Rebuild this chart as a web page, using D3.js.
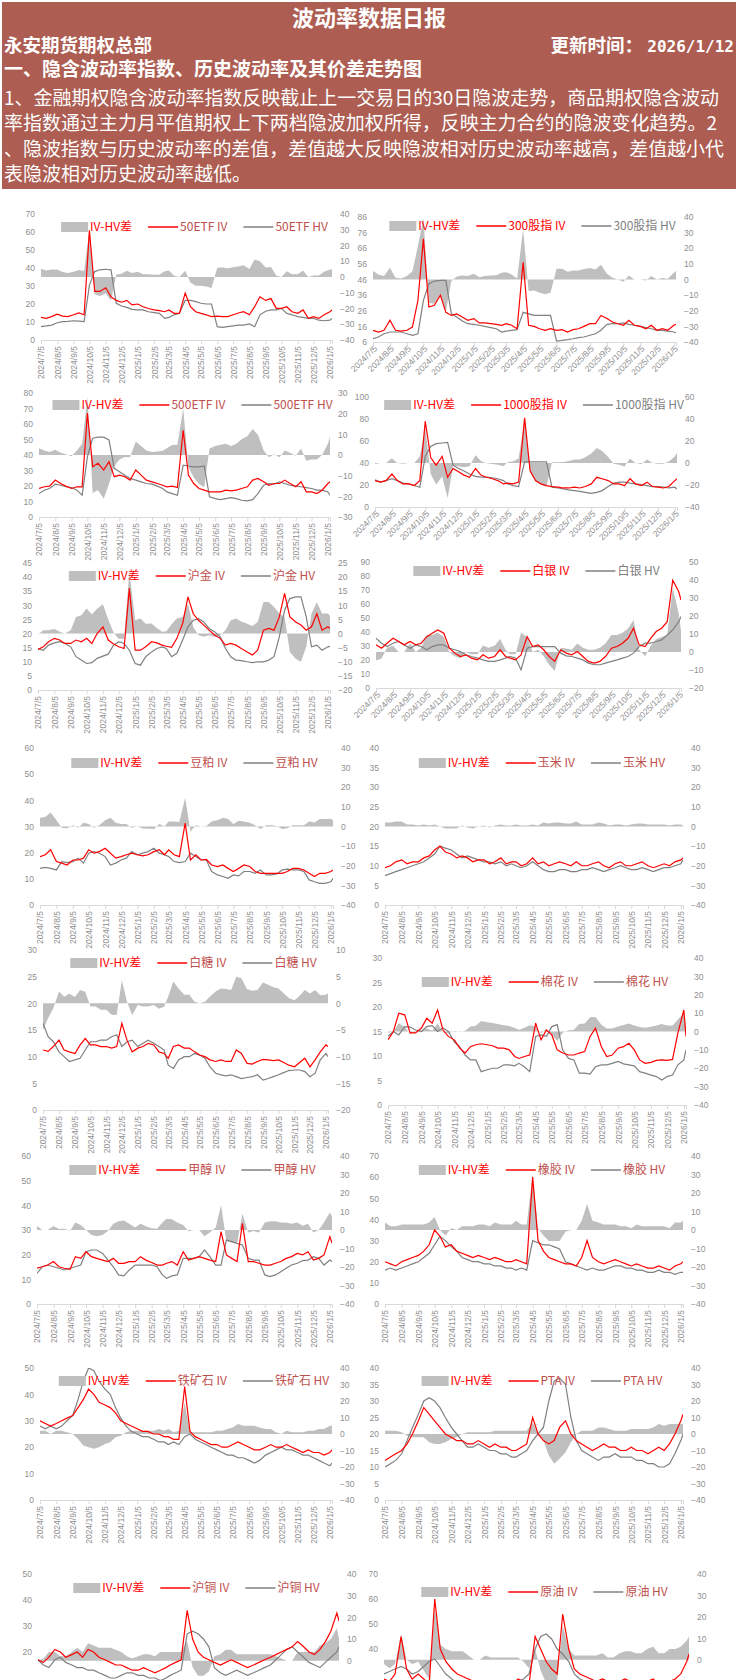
<!DOCTYPE html>
<html>
<head>
<meta charset="utf-8">
<script src="https://cdn.jsdelivr.net/npm/d3@7"></script>
<style>
  body { margin: 0; background: #fff; }
  svg { display: block; font-family: "Noto Sans CJK SC", "Noto Sans", sans-serif; }
</style>
</head>
<body>
<svg id="page" width="738" height="1680"></svg>
<script>
// sample dates (3 per month) and monthly tick labels
const dates = ["2024-07-05","2024-07-15","2024-07-25","2024-08-05","2024-08-15","2024-08-25","2024-09-05","2024-09-15","2024-09-25","2024-10-05","2024-10-15","2024-10-25","2024-11-05","2024-11-15","2024-11-25","2024-12-05","2024-12-15","2024-12-25","2025-01-05","2025-01-15","2025-01-25","2025-02-05","2025-02-15","2025-02-25","2025-03-05","2025-03-15","2025-03-25","2025-04-05","2025-04-15","2025-04-25","2025-05-05","2025-05-15","2025-05-25","2025-06-05","2025-06-15","2025-06-25","2025-07-05","2025-07-15","2025-07-25","2025-08-05","2025-08-15","2025-08-25","2025-09-05","2025-09-15","2025-09-25","2025-10-05","2025-10-15","2025-10-25","2025-11-05","2025-11-15","2025-11-25","2025-12-05","2025-12-15","2025-12-25","2026-01-05","2026-01-09"];
const tickLabels = ["2024/7/5","2024/8/5","2024/9/5","2024/10/5","2024/11/5","2024/12/5","2025/1/5","2025/2/5","2025/3/5","2025/4/5","2025/5/5","2025/6/5","2025/7/5","2025/8/5","2025/9/5","2025/10/5","2025/11/5","2025/12/5","2026/1/5"];

// IV / HV series (IV-HV差 = IV - HV)
const etf50IV = [12.6,12,13, 14.4,13.3,13, 14,15,14, 61,27,27, 29,24,22, 21,22,19.5, 20,18.5,17.5, 16.7,16.3,15.7, 16.7,14.8,14.8, 26,18.5,15.7, 14.8,14,13, 13.3,13,13, 14,15,15.7, 14,18.5,24, 22,23,17.6, 17.6,18.5,15.7, 14.8,16.7,12, 13,12,14, 15.7,16.7];
const etf50HV = [7.4,7.8,8.3, 9.6,10.2,10.4, 10.7,10.5,10.2, 30.5,38,39, 39.3,39,20.4, 18.9,18.1,17, 16.7,16.7,15.7, 15.2,14.8,12, 12.6,14,14.8, 22,22,21.3, 20.4,20,20, 7.4,7,7.4, 7.8,8.3,8.3, 8.9,7.4,14, 16,16.7,16.7, 17.6,14.8,14, 13,12.6,12, 12,11,10.7, 11,12];
const hs300IV = [13.5,12.4,13.5, 19.9,13.5,13, 13.5,15.6,32.7, 72,28.4,29.5, 35.9,25,23, 24,22,19.9, 21,18.2,18.2, 17.7,17.3,16.7, 17.7,16.7,14.5, 57,16.7,16, 14.5,13.5,14.5, 13.5,13.9,12.4, 13.9,14.5,16, 17.7,17.7,23, 21,18.8,17.7, 16.7,19.9,16.7, 16,14.5,16.7, 13.5,14.5,13.5, 16.7,17.3];
const hs300HV = [8.1,9.2,11.3, 12.4,12.4,12.4, 11.3,10.3,11.3, 32.7,43.3,45, 45.5,45.5,24, 22,19.4,17.7, 17.3,16.7,16, 15.2,14.5,12.4, 13,13.5,13.9, 25,24,23, 23,23,23, 6.6,7,7.5, 8.1,8.8,9.2, 10.3,11.3,13.5, 17.3,17.7,17.7, 18.2,17.3,16.7, 16,15.2,14.5, 13.5,13.5,13, 12.4,11.8];
const etf500IV = [18.4,19.5,19.9, 23.8,21.6,19.9, 18.4,19.5,19.5, 67,32.4,34.6, 30.3,35.7,26, 27,26,23.8, 30.3,27,23.8, 22.7,21.6,20.5, 19.5,19.9,19, 56,27,21.6, 18.4,17.3,16.2, 16.2,16.2,17.3, 16.9,17.3,18.4, 19.5,23.8,24.9, 22.7,20.5,21.6, 21.6,23.8,21.6, 19.5,22.7,16.2, 16.2,15.1,17.3, 21.6,22.7];
const etf500HV = [15.1,17.3,18.4, 21.2,20.5,19.5, 19,17.3,14, 39,50.8,51.5, 51.5,49.7,31.4, 29.2,27,24.9, 23.8,22.7,21.6, 21.2,19.9,18.4, 16.2,15.1,14, 33.5,32.9,32.4, 32.4,32.9,13, 11.9,11.2,11.9, 12.5,11.9,10.8, 10.4,11.2,15.1, 20.5,21.6,21.2, 22.7,21.6,20.5, 19.9,19.5,19, 18.4,17.3,17.3, 16.2,14];
const zz1000IV = [24,22.6,24, 30,24,21, 21,19.5,24, 78,45,38, 46,27,35, 32,29,27, 35,29,27, 25.7,24,21, 21.7,21,22.6, 81,33,24, 21,19.5,18.6, 18,17.3,17.3, 18,17.3,18.6, 21,27,25.7, 24,21,21, 19.5,25.7,21, 19.5,22.6,18.6, 18,17.3,18.6, 24,25.7];
const zz1000HV = [24.8,22.6,24, 25.7,24,21.7, 21,19.5,18, 46,55,57.6, 58.2,58.8,38, 35,32.8,30, 27.9,27.2,27.2, 26.6,25.7,24, 21,19.5,18.6, 41,41,41, 41,41,18, 17.3,16.4,15.5, 14.9,14.2,13.3, 12.4,13.3,14.9, 18.6,21.7,22.6, 22.6,21.7,21, 20.4,19.5,18.6, 18.6,18,17.3, 18,16.4];
const goldIV = [14.4,15.3,17.1, 18.3,17.7,16.5, 16.5,17.7,17.1, 18.3,16.5,20, 22.4,17.7,16.3, 15.3,14.7,36, 14.1,14.1,15.3, 17.1,16.7,15.9, 15.5,15.1,18.3, 23.6,33,27, 24.7,23,21.2, 19.4,18.3,15.9, 16.5,15.9,14.7, 13.5,12.4,14.1, 21.2,21.8,21.2, 25.9,34.2,25.9, 24.1,23,21.2, 22.4,27,21.2, 22.4,21.8];
const goldHV = [14.7,14.1,15.9, 16.7,17.1,16.5, 15.3,11.8,10.6, 9.4,9.7,11.2, 12,12.7,15.9, 17.1,16.5,14.1, 9.4,8.8,11.8, 13.5,14.7,15.3, 14.7,11.8,13, 17.7,22.4,24.7, 25.3,24.1,21.8, 20.6,18.8,14.7, 11.8,10.6,10.4, 10,9.7,10, 10,10.6,11.8, 18.8,28.3,32.4, 33,33,25.9, 15.3,15.9,14.1, 15.3,15.5];
const silverIV = [30.8,28.4,32, 35.5,33.2,30.8, 33.2,30.8,32, 36.7,39.1,41.5, 39.1,28.4,24.9, 22.5,23.7,21.3, 20.1,23.7,21.3, 22.5,27.3,22.5, 21.3,20.1,23.7, 36.7,29.6,30.8, 27.3,22.5,19, 27.3,24.9,23.7, 26,22.5,19, 17.8,19,22.5, 28.4,29.6,32, 35.5,42.7,30.8, 29.6,35.5,40.3, 42.7,47.4,77, 68.7,62.8];
const silverHV = [35.5,32,29.6, 32,33.2,30.8, 28.4,30.8,29.6, 27.3,29.6,30.8, 30.8,28.4,27.3, 26,23.7,22.5, 21.3,20.1,19, 19,20.1,21.3, 22.5,21.3,13, 28.4,29.6,29.6, 29.6,29.6,29.6, 24.9,23,22.5, 21.3,20.1,17.8, 16.6,16.6,17.8, 19,20.1,21.3, 22.5,24.9,29.6, 32,32,33.2, 34.4,37.9,41.5, 47.4,51];
const mealIV = [18.5,19.2,21.1, 16.6,16,15.3, 17.2,17.2,17.9, 21.1,19.8,20.4, 21.7,19.8,17.9, 18.5,19.2,19.8, 19.2,18.8,19.2, 20.4,21.1,19.2, 21.1,19.2,18.5, 31.3,17.2,19.2, 17.2,17.4,15.3, 14.7,15.3,14, 12.8,14,15.3, 14.7,12.8,12.1, 12.1,12.1,12.1, 12.1,12.8,14, 14,13.4,12.1, 10.9,12.1,12.1, 12.8,13.4];
const mealHV = [14,14.4,14, 13.4,16.6,16.2, 16.6,17.9,16, 19.8,20.4,19.8, 18.5,15.3,16, 17.2,17.9,20.4, 19.2,19.8,20.4, 21.7,19.8,19.2, 18.5,16.6,16.2, 16.6,19.8,18.5, 17.2,17.2,12.8, 11.5,10.9,10.2, 11.5,11.1,12.8, 12.8,12.1,13.4, 11.5,11.5,11.9, 13.4,13.7,13.4, 13.4,12.8,9.6, 8.9,8.3,8.3, 8.9,10.2];
const cornIV = [9.5,10,11, 11.5,10.5,11, 11,12,12.5, 14,15,13.5, 13,12,12.5, 12,11,11.5, 11.5,10.5,11, 12,10.5,11, 11,10,10.5, 12,10.5,11, 10,10.5,11, 10.5,10,11, 10,10,10.5, 11,10,9.5, 10.5,11,10, 10,10.5,11, 10,9.5,10, 10.5,10,11, 11.5,12];
const cornHV = [7.5,8,8.5, 9,9.5,10, 10.5,11,12, 13,15,14.5, 14,13,12, 12.5,12,11.5, 11,11,10.5, 11,10,10.5, 10,9.5,10, 11,10,9, 8.5,8.5,9, 9,8.5,8.5, 9,9,9.5, 9,8.5,9, 9.5,10,9.5, 9,9,9.5, 9,8.5,9, 9.5,9.5,10, 10.5,11.5];
const sugarIV = [11.25,11,11.9, 13.1,11.25,10.9, 10.6,12.2,13.4, 12.2,12.2,11.9, 11.9,11.6,11.9, 16.25,13.1,10.9, 11.6,11.9,12.5, 12.2,10.9,10.6, 9.7,11.9,12.2, 11.6,11.6,10.9, 10.3,10,9.4, 9.1,9.4,9.1, 9.1,11.25,10.6, 8.75,8.6,9.1, 9.5,9.4,9.25, 9.4,8.9,8.4, 8.1,8.9,9.7, 8.1,9.4,10.9, 12.2,11.9];
const sugarHV = [16.25,13.75,12.8, 10.9,10,9.1, 9.4,9.7,11.25, 12.8,12.8,13.1, 13.1,13.75,14.1, 11.9,12.8,13.1, 11.9,12.5,13.1, 12.5,11.9,11.25, 8.4,7.8,9.4, 10,10,10.6, 10.3,9.7,8.1, 6.9,6.6,6.4, 6.6,6.25,5.9, 6.1,6.25,6.6, 5.6,5.9,6.25, 6.6,7,7.4, 7.5,7.5,7.2, 6.25,6.9,9.4, 10.6,10];
const cottonIV = [13.3,15,18.75, 18.4,14.7,14.7, 15.7,17.7,16.7, 19.4,15.3,14, 13.3,11.6,10.6, 11.9,12.3,12.5, 12.3,12.1,11.6, 11.6,11.25,9.9, 9.5,9.9,10.2, 16.7,13.3,15.3, 14.3,11.25,10.6, 10.2,10.2,10.6, 10.9,14,15.7, 11.9,9.9,10.2, 11.6,11.9,12.6, 11.25,9.2,8.5, 8.7,9.1,9.2, 9.1,9.3,14.7, 19.4,14];
const cottonHV = [14,15,14.3, 16,15.9,15.3, 15,16,16.2, 15,15.7,15, 12.9,11.9,10.2, 9.2,9.2,6.8, 7.2,7.5,7.5, 8.2,8.2,8, 8.5,7.8,6.8, 14,14.3,14, 16,16.4,11.25, 9.5,9.2,6.5, 6.5,6.3,7.8, 8.2,8.2,8.5, 8.9,8.4,8.2, 8,6.8,6.5, 6.1,5.8,5.1, 5.8,6.1,8.2, 9.2,11.25];
const methanolIV = [14.5,15.1,15.8, 17.2,15.1,14.5, 14.1,19.2,18.5, 21.2,19.2,18.5, 17.8,17.2,18.5, 16.5,16.5,17.2, 17.2,19.2,17.8, 16.8,15.8,15.8, 16.5,17.2,15.8, 21.2,17.8,18.5, 19.2,18.5,17.8, 17.2,29.3,19.9, 18.5,17.2,32.7, 17.2,17.2,16.5, 15.8,15.8,16.5, 17.2,18.5,19.2, 20.5,19.9,21.2, 17.8,18.5,19.9, 27.3,24.6];
const methanolHV = [12.4,15.1,15.8, 15.1,14.5,13.8, 14.5,15.1,15.8, 21.2,21.9,21.9, 20.5,17.8,15.1, 11.8,11.4,13.8, 15.8,15.8,15.8, 15.8,15.1,11.8, 10.4,11.4,11.8, 18.5,18.5,18.5, 19.2,21.9,19.2, 15.8,15.8,25.9, 25.3,24.6,23.9, 18.5,17.8,17.8, 11.8,11.1,11.8, 13.1,14.5,15.8, 16.5,17.6,17.8, 19.2,18.5,15.8, 17.8,17.2];
const rubberIV = [20,19,18, 20,21,22, 23,25,28, 35,32,27, 28,25,24, 23,22,23, 22,21,22, 21,20,20, 21,20,19, 60,30,25, 22,21,20, 19,19,18, 22,30,22, 20,19,20, 21,20,19, 18,19,18, 17,17,18, 17,16,18, 19,20];
const rubberHV = [16,17,16, 17,18,19, 20,22,24, 28,32,30, 27,25,22, 21,20,20, 19,19,18, 18,17,17, 16,17,16, 30,29,28, 28,27,26, 20,19,18, 17,16,17, 16,16,17, 18,18,17, 17,16,16, 15,15,16, 15,15,14, 15,15];
const ironIV = [30,29,28, 29,30,31, 32,35,38, 42,40,37, 36,35,33, 30,29,28, 27,26,26, 25,25,24, 24,23,23, 43,26,24, 23,22,21, 21,20,20, 21,22,21, 20,19,19, 20,21,20, 20,21,20, 19,18,19, 18,18,17, 18,19];
const ironHV = [28,27,28, 27,28,30, 32,38,45, 50,49,45, 42,40,35, 31,28,26, 25,24,24, 23,22,22, 21,22,21, 24,25,23, 22,21,20, 19,18,17, 17,16,16, 15,14,15, 17,18,19, 20,19,19, 18,17,17, 16,15,14, 13,14];
const ptaIV = [12,13,14, 15,17,20, 24,28,26, 24,22,20, 19,18,18, 17,17,18, 17,16,17, 16,16,15, 15,16,17, 25,20,18, 17,18,22, 24,20,18, 17,16,15, 16,17,16, 16,15,15, 16,15,15, 14,15,16, 15,17,20, 24,26];
const ptaHV = [10,11,12, 14,18,22, 26,30,31, 30,28,25, 22,20,18, 16,16,17, 16,15,15, 14,14,13, 13,14,15, 18,20,22, 30,36,37, 35,25,18, 15,14,13, 12,13,13, 14,13,13, 13,12,12, 11,11,10, 10,11,14, 18,20];
const copperIV = [17,16,18, 21,20,18, 19,20,18, 21,20,18, 17,16,15, 15,14,13, 13,14,13, 12,13,14, 15,16,17, 36,25,20, 18,17,16, 15,16,17, 16,15,14, 15,16,17, 18,19,20, 21,22,24, 22,20,19, 21,24,28, 35,32];
const copperHV = [17,15,14, 17,18,16, 15,14,14, 13,13,12, 11,10,10, 11,12,12, 11,11,10, 10,9,10, 11,12,13, 27,28,27, 25,22,14, 12,11,12, 13,12,11, 12,13,14, 15,17,19, 21,22,20, 18,16,15, 14,16,18, 20,22];
const crudeIV = [28,27,30, 45,32,28, 30,28,26, 60,40,35, 32,30,29, 28,27,26, 27,26,25, 26,27,26, 28,27,26, 45,40,35, 32,30,54, 40,32,30, 29,28,27, 28,27,26, 27,28,27, 26,25,27, 28,26,25, 27,28,30, 35,38];
const crudeHV = [30,31,32, 33,32,30, 31,33,35, 36,33,30, 28,26,25, 26,27,26, 25,25,24, 25,26,25, 27,28,30, 40,45,46, 44,40,38, 35,30,28, 27,26,25, 25,26,25, 24,24,23, 23,22,22, 22,23,22, 22,23,24, 26,27];

const BROWN = "#c0504d", RED = "#ff0000", GRAY = "#7f7f7f";
const PAGE_H = 1680;
const charts = [
  { name: "50ETF", iv: etf50IV, hv: etf50HV, x0: 41, x1: 332, top: 214, bottom: 340, left: [0, 70, 10], right: [-40, 40, 10], rot: -90, legY: 227, ivText: BROWN, hvText: BROWN },
  { name: "300股指", iv: hs300IV, hv: hs300HV, x0: 373, x1: 676, top: 217, bottom: 342, left: [6, 86, 10], right: [-40, 40, 10], rot: -45, legY: 226, ivText: RED, hvText: GRAY },
  { name: "500ETF", iv: etf500IV, hv: etf500HV, x0: 39, x1: 330, top: 393, bottom: 517, left: [0, 80, 10], right: [-30, 30, 10], rot: -90, legY: 405, ivText: BROWN, hvText: BROWN },
  { name: "1000股指", iv: zz1000IV, hv: zz1000HV, x0: 375, x1: 677, top: 397, bottom: 507, left: [0, 100, 20], right: [-40, 60, 20], rot: -45, legY: 405, ivText: RED, hvText: GRAY },
  { name: "沪金", iv: goldIV, hv: goldHV, x0: 38, x1: 330, top: 563, bottom: 690, left: [0, 45, 5], right: [-20, 25, 5], rot: -90, legY: 576, ivText: BROWN, hvText: BROWN },
  { name: "白银", iv: silverIV, hv: silverHV, x0: 376, x1: 681, top: 562, bottom: 688, left: [0, 90, 10], right: [-20, 50, 10], rot: -45, legY: 571, ivText: RED, hvText: GRAY },
  { name: "豆粕", iv: mealIV, hv: mealHV, x0: 40, x1: 333, top: 748, bottom: 905, left: [0, 60, 10], right: [-40, 40, 10], rot: -90, legY: 763, ivText: BROWN, hvText: BROWN },
  { name: "玉米", iv: cornIV, hv: cornHV, x0: 385, x1: 683, top: 748, bottom: 905, left: [0, 40, 5], right: [-40, 40, 10], rot: -90, legY: 763, ivText: BROWN, hvText: BROWN },
  { name: "白糖", iv: sugarIV, hv: sugarHV, x0: 43, x1: 328, top: 950, bottom: 1110, left: [0, 30, 5], right: [-20, 10, 5], rot: -90, legY: 963, ivText: BROWN, hvText: BROWN },
  { name: "棉花", iv: cottonIV, hv: cottonHV, x0: 388, x1: 686, top: 958, bottom: 1105, left: [0, 30, 5], right: [-40, 40, 10], rot: -90, legY: 982, ivText: BROWN, hvText: BROWN },
  { name: "甲醇", iv: methanolIV, hv: methanolHV, x0: 37, x1: 332, top: 1156, bottom: 1304, left: [0, 60, 10], right: [-40, 40, 10], rot: -90, legY: 1170, ivText: BROWN, hvText: BROWN },
  { name: "橡胶", iv: rubberIV, hv: rubberHV, x0: 385, x1: 683, top: 1156, bottom: 1304, left: [0, 70, 10], right: [-40, 40, 10], rot: -90, legY: 1170, ivText: BROWN, hvText: BROWN },
  { name: "铁矿石", iv: ironIV, hv: ironHV, x0: 40, x1: 332, top: 1368, bottom: 1500, left: [0, 50, 10], right: [-40, 40, 10], rot: -90, legY: 1381, ivText: BROWN, hvText: BROWN },
  { name: "PTA", iv: ptaIV, hv: ptaHV, x0: 385, x1: 683, top: 1368, bottom: 1500, left: [0, 40, 5], right: [-40, 40, 10], rot: -90, legY: 1381, ivText: BROWN, hvText: BROWN },
  { name: "沪铜", iv: copperIV, hv: copperHV, x0: 38, x1: 339, top: 1574, bottom: 1704, left: [0, 50, 10], right: [-20, 40, 10], rot: -90, legY: 1588, ivText: BROWN, hvText: BROWN },
  { name: "原油", iv: crudeIV, hv: crudeHV, x0: 384, x1: 689, top: 1574, bottom: 1724, left: [10, 70, 10], right: [-30, 40, 10], rot: -90, legY: 1592, ivText: BROWN, hvText: BROWN }
];

const svg = d3.select("#page");
const parse = d3.timeParse("%Y-%m-%d");
const parseTick = d3.timeParse("%Y/%m/%d");
const times = dates.map(parse);
const ticks = tickLabels.map(parseTick);

// ---- header block ----
svg.append("rect").attr("x", 2).attr("y", 2).attr("width", 734).attr("height", 187).attr("fill", "#ad5d51");
const head = svg.append("g").attr("fill", "#fff");
head.append("text").attr("x", 369).attr("y", 26).attr("text-anchor", "middle")
  .attr("font-size", 22).attr("font-weight", "bold").text("波动率数据日报");
head.append("text").attr("x", 4).attr("y", 52).attr("font-size", 18.5).attr("font-weight", "bold").text("永安期货期权总部");
const upd = head.append("text").attr("x", 734).attr("y", 52).attr("text-anchor", "end").attr("font-size", 18.5).attr("font-weight", "bold");
upd.append("tspan").text("更新时间： ");
upd.append("tspan").attr("font-family", "DejaVu Sans Mono, monospace").attr("font-size", 16).text("2026/1/12");
head.append("text").attr("x", 4).attr("y", 76).attr("font-size", 19).attr("font-weight", "bold")
  .text("一、隐含波动率指数、历史波动率及其价差走势图");
const para = [
  ["1、金融期权隐含波动率指数反映截止上一交易日的30日隐波走势，商品期权隐含波动", 715],
  ["率指数通过主力月平值期权上下两档隐波加权所得，反映主力合约的隐波变化趋势。2", 713],
  ["、隐波指数与历史波动率的差值，差值越大反映隐波相对历史波动率越高，差值越小代", 720],
  ["表隐波相对历史波动率越低。", 247]
];
para.forEach(([s, w], i) => {
  head.append("text").attr("x", 4).attr("y", 105 + i * 25.3).attr("font-size", 19)
    .attr("textLength", w).attr("lengthAdjust", "spacingAndGlyphs").text(s);
});

// ---- small multiples ----
const fmt = d3.timeFormat("%Y/%-m/%-d");

charts.forEach((c, ci) => {
  const g = svg.append("g");
  const x = d3.scaleTime().domain([times[0], times[times.length - 1]]).range([c.x0, c.x1]);
  const yL = d3.scaleLinear().domain([c.left[0], c.left[1]]).range([c.bottom, c.top]);
  const yR = d3.scaleLinear().domain([c.right[0], c.right[1]]).range([c.bottom, c.top]);
  const rows = times.map((t, i) => ({ t, iv: c.iv[i], hv: c.hv[i], diff: c.iv[i] - c.hv[i] }));

  const clipId = "clip" + ci;
  svg.append("clipPath").attr("id", clipId).append("rect")
    .attr("x", c.x0).attr("y", c.top).attr("width", c.x1 - c.x0).attr("height", c.bottom - c.top);
  const plot = g.append("g").attr("clip-path", `url(#${clipId})`);

  plot.append("path").datum(rows).attr("fill", "#bfbfbf")
    .attr("d", d3.area().x(d => x(d.t)).y0(yR(0)).y1(d => yR(d.diff)));
  plot.append("path").datum(rows).attr("fill", "none").attr("stroke", "#808080").attr("stroke-width", 1.2)
    .attr("d", d3.line().x(d => x(d.t)).y(d => yL(d.hv)));
  plot.append("path").datum(rows).attr("fill", "none").attr("stroke", RED).attr("stroke-width", 1.2)
    .attr("d", d3.line().x(d => x(d.t)).y(d => yL(d.iv)));

  // value axes (labels below the page edge are left out, as in the cropped original)
  const styleAxis = s => {
    s.select(".domain").remove();
    s.selectAll("text").attr("fill", "#8f8f8f").attr("font-size", 8.5);
  };
  const visible = (scale, step, lo, hi) => d3.range(lo, hi + 0.01, step).filter(v => scale(v) < PAGE_H - 6);
  g.append("g").attr("transform", `translate(${c.x0},0)`)
    .call(d3.axisLeft(yL).tickValues(visible(yL, c.left[2], c.left[0], c.left[1])).tickSize(0).tickPadding(6))
    .call(styleAxis);
  g.append("g").attr("transform", `translate(${c.x1},0)`)
    .call(d3.axisRight(yR).tickValues(visible(yR, c.right[2], c.right[0], c.right[1])).tickSize(0).tickPadding(8))
    .call(styleAxis);

  // date axis
  if (c.bottom + 4 < PAGE_H) {
    const gx = g.append("g").attr("transform", `translate(0,${c.bottom})`)
      .call(d3.axisBottom(x).tickValues(ticks).tickFormat(fmt).tickSize(4));
    gx.select(".domain").attr("stroke", "#d9d9d9");
    gx.selectAll(".tick line").attr("stroke", "#d9d9d9");
    const lbl = gx.selectAll(".tick text").attr("fill", "#8f8f8f").attr("font-size", 8.5).attr("text-anchor", "end");
    if (c.rot === -90) {
      lbl.attr("x", -6).attr("y", 0).attr("dy", "0.35em").attr("transform", "rotate(-90)");
    } else {
      lbl.attr("x", -2).attr("y", 5).attr("dy", "0.35em").attr("transform", "rotate(-45)");
    }
  }

  // legend
  const leg = g.append("g").attr("font-size", 12);
  let cx = 0;
  leg.append("rect").attr("x", cx).attr("y", -5).attr("width", 27).attr("height", 10).attr("fill", "#bfbfbf");
  cx += 29;
  const t1 = leg.append("text").attr("x", cx).attr("dy", "0.35em").attr("fill", RED).text("IV-HV差");
  cx += t1.node().getComputedTextLength() + 16;
  leg.append("line").attr("x1", cx).attr("x2", cx + 30).attr("stroke", RED).attr("stroke-width", 1.5);
  cx += 32;
  const t2 = leg.append("text").attr("x", cx).attr("dy", "0.35em").attr("fill", c.ivText).text(c.name + " IV");
  cx += t2.node().getComputedTextLength() + 16;
  leg.append("line").attr("x1", cx).attr("x2", cx + 30).attr("stroke", "#808080").attr("stroke-width", 1.5);
  cx += 32;
  const t3 = leg.append("text").attr("x", cx).attr("dy", "0.35em").attr("fill", c.hvText).text(c.name + " HV");
  cx += t3.node().getComputedTextLength();
  const lx = (c.x0 + c.x1) / 2 + 8 - cx / 2;
  leg.attr("transform", `translate(${lx},${c.legY})`);
});
</script>
</body>
</html>
